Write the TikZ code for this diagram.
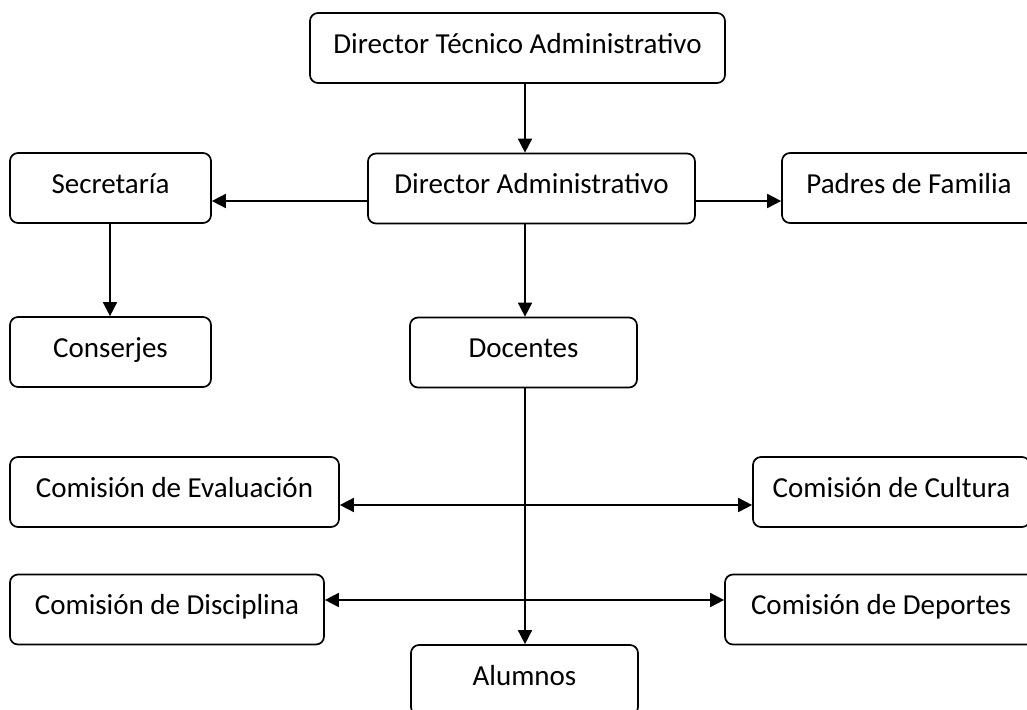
\documentclass[tikz,border=0pt]{standalone}
\usepackage{fontspec}
\setmainfont{Carlito}
\usetikzlibrary{arrows.meta}

\begin{document}
\begin{tikzpicture}[x=1pt, y=-1pt,
   box/.style={draw, line width=1.7pt, rounded corners=8pt, minimum height=70pt,
     font=\fontsize{29}{35}\selectfont, text height=20pt, text depth=9.5pt},
   arr/.style={line width=1.7pt, -{Triangle[length=14pt,width=14pt]}},
   biarr/.style={line width=1.7pt,
     {Triangle[length=14pt,width=14pt]}-{Triangle[length=14pt,width=14pt]}}]

\useasboundingbox (0,0) rectangle (1027,709);
\clip (0,0) rectangle (1027,709);
\fill[white] (0,0) rectangle (1027,709);

\node[box, minimum width=415pt] (dta) at (517.5,48) {Director Técnico Administrativo};
\node[box, minimum width=327pt] (da)  at (531.5,188.5) {Director Administrativo};
\node[box, minimum width=201pt] (sec) at (110.5,188) {Secretaría};
\node[box, minimum width=254pt] (pad) at (909,188) {Padres de Familia};
\node[box, minimum width=201pt] (con) at (110.5,352) {Conserjes};
\node[box, minimum width=227pt] (doc) at (523.5,352.5) {Docentes};
\node[box, minimum width=329pt] (eva) at (174.5,492) {Comisión de Evaluación};
\node[box, minimum width=277pt] (cul) at (891.5,492) {Comisión de Cultura};
\node[box, minimum width=314pt] (dis) at (167,609.5) {Comisión de Disciplina};
\node[box, minimum width=312pt] (dep) at (881,609.5) {Comisión de Deportes};
\node[box, minimum width=227pt] (alu) at (524.5,680) {Alumnos};

% guide lines
\coordinate (spine) at (525,0);
\coordinate (side) at (110,0);
\coordinate (row1) at (0,201);
\coordinate (rowa) at (0,505);
\coordinate (rowb) at (0,600);

\draw[arr] (dta.south -| spine) -- (da.north -| spine);
\draw[arr] (da.west |- row1) -- (sec.east |- row1);
\draw[arr] (da.east |- row1) -- (pad.west |- row1);
\draw[arr] (sec.south -| side) -- (con.north -| side);
\draw[arr] (da.south -| spine) -- (doc.north -| spine);
\draw[arr] (doc.south -| spine) -- (alu.north -| spine);
\draw[biarr] (eva.east |- rowa) -- (cul.west |- rowa);
\draw[biarr] (dis.east |- rowb) -- (dep.west |- rowb);

\end{tikzpicture}
\end{document}
